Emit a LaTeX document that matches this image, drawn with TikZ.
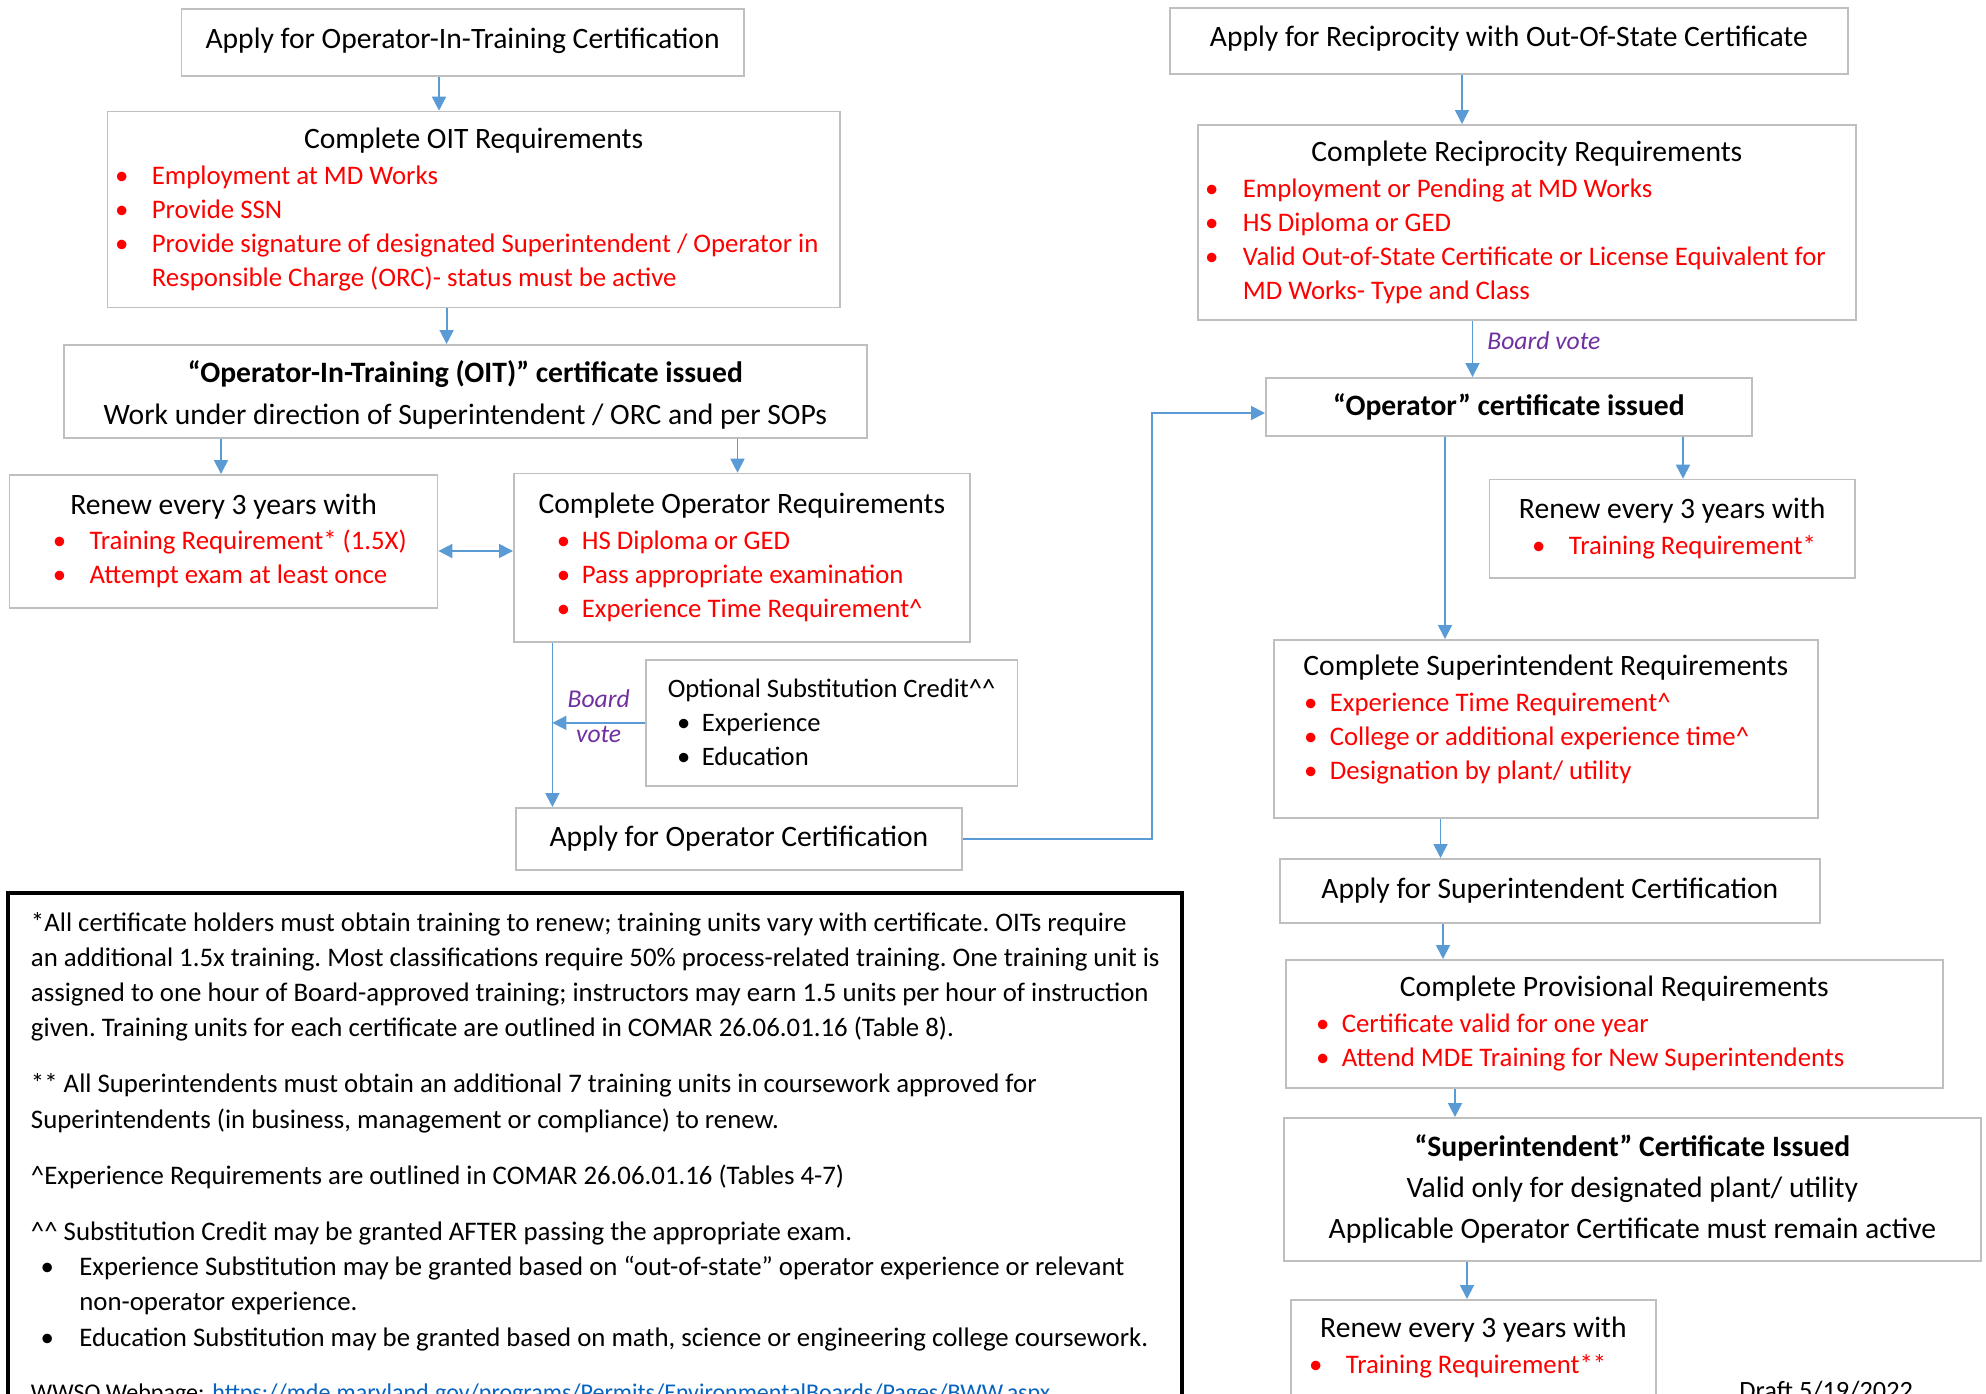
\documentclass[tikz,border=0pt]{standalone}
\usepackage{fontspec}
\setmainfont{Carlito}
\usetikzlibrary{arrows.meta}
\definecolor{boxgray}{HTML}{BFBFBF}
\definecolor{flowblue}{HTML}{5B9BD5}
\definecolor{votepurple}{HTML}{7030A0}
\definecolor{reqred}{HTML}{FF0000}
\definecolor{linkblue}{HTML}{0563C1}
\newcommand{\itemfont}{\fontsize{13.4}{17}\selectfont}
\newcommand{\ctr}[1]{\makebox[\hsize][c]{#1}}
\newcommand{\bitem}[3]{\leavevmode\makebox[0pt][l]{\hspace*{#1}\makebox[0pt]{\textbullet}}\hspace*{#2}#3}
\newcommand{\ritem}[3]{\leavevmode{\color{reqred}\itemfont\bitem{#1}{#2}{#3}}}
\newcommand{\rcont}[2]{\leavevmode{\color{reqred}\itemfont\hspace*{#1}#2}}
\begin{document}
\frenchspacing
\begin{tikzpicture}[x=0.5pt, y=-0.5pt, >={Triangle[length=7pt,width=7pt]},
  flowbox/.style 2 args={draw=boxgray, line width=0.85pt, anchor=north west, inner sep=0pt,
    align=flush left, text width=#1, minimum width=#1, minimum height=#2,
    font=\fontsize{14.8}{17}\selectfont},
  flow/.style={draw=flowblue, line width=0.9pt, ->},
  votelabel/.style={text=votepurple, inner sep=0pt, font=\fontsize{12.8}{15}\selectfont\itshape}]
  \useasboundingbox (0,0) rectangle (1986,1393);
  \fill[white] (0,0) rectangle (1986,1393);
  \clip (0,0) rectangle (1986,1393);

  \node[flowbox={281.25pt}{33.3pt}] (A) at (180.5,8.3) {\ctr{Apply for Operator-In-Training Certification\rule[-4.4pt]{0pt}{1pt}}};
  \node[flowbox={366.25pt}{98pt}] (B) at (106.5,110.7) {\ctr{Complete OIT Requirements}\\[1pt]
    \ritem{7.25pt}{22.25pt}{Employment at MD Works}\\
    \ritem{7.25pt}{22.25pt}{Provide SSN}\\
    \ritem{7.25pt}{22.25pt}{Provide signature of designated Superintendent / Operator in}\\
    \rcont{22.25pt}{Responsible Charge (ORC)- status must be active}};
  \node[flowbox={401.5pt}{46.5pt}] (C) at (63,344) {\ctr{\bfseries\rule{0pt}{15pt}“Operator-In-Training (OIT)” certificate issued}\\[4pt]
    \ctr{Work under direction of Superintendent / ORC and per SOPs}};
  \node[flowbox={214pt}{66.5pt}] (D) at (8.7,474) {\ctr{Renew every 3 years with}\\[0.5pt]
    \ritem{25pt}{40pt}{Training Requirement* (1.5X)}\\
    \ritem{25pt}{40pt}{Attempt exam at least once}};
  \node[flowbox={228pt}{84.2pt}] (E) at (513,472.7) {\ctr{Complete Operator Requirements}\\[1pt]
    \ritem{24.8pt}{34pt}{HS Diploma or GED}\\
    \ritem{24.8pt}{34pt}{Pass appropriate examination}\\
    \ritem{24.8pt}{34pt}{Experience Time Requirement\textasciicircum}};
  \node[flowbox={185.75pt}{63pt}, font=\fontsize{13.3}{17}\selectfont] (F) at (645,659) {\ctr{Optional Substitution Credit\textasciicircum\textasciicircum}\\
    \bitem{19pt}{28pt}{Experience}\\
    \bitem{19pt}{28pt}{Education}};
  \node[flowbox={223pt}{31pt}] (G) at (515,807) {\ctr{Apply for Operator Certification}};

  \node[flowbox={339pt}{33pt}] (I) at (1169,7) {\ctr{Apply for Reciprocity with Out-Of-State Certificate\rule[-4.6pt]{0pt}{1pt}}};
  \node[flowbox={329pt}{97.5pt}] (J) at (1197,124) {\ctr{Complete Reciprocity Requirements}\\[1pt]
    \ritem{7pt}{22.5pt}{Employment or Pending at MD Works}\\
    \ritem{7pt}{22.5pt}{HS Diploma or GED}\\
    \ritem{7pt}{22.5pt}{Valid Out-of-State Certificate or License Equivalent for}\\
    \rcont{22.5pt}{MD Works- Type and Class}};
  \node[flowbox={243pt}{29pt}] (H) at (1265,377) {\ctr{\bfseries “Operator” certificate issued}};
  \node[flowbox={182.75pt}{49.2pt}] (K) at (1488.5,478.7) {\ctr{Renew every 3 years with}\\[1pt]
    \ritem{24.75pt}{39.75pt}{Training Requirement*}};
  \node[flowbox={272pt}{89pt}] (L) at (1273,639) {\ctr{Complete Superintendent Requirements}\\[1pt]
    \ritem{18.5pt}{28pt}{Experience Time Requirement\textasciicircum}\\
    \ritem{18.5pt}{28pt}{College or additional experience time\textasciicircum}\\
    \ritem{18.5pt}{28pt}{Designation by plant/ utility}\rule[-11.6pt]{0pt}{1pt}};
  \node[flowbox={270pt}{32pt}] (M) at (1279,858) {\ctr{Apply for Superintendent Certification}};
  \node[flowbox={328.5pt}{64pt}] (N) at (1285,959) {\ctr{Complete Provisional Requirements}\\[1pt]
    \ritem{18.5pt}{28pt}{Certificate valid for one year}\\
    \ritem{18.5pt}{28pt}{Attend MDE Training for New Superintendents}};
  \node[flowbox={348.5pt}{71.5pt}] (O) at (1283,1117) {\ctr{\bfseries “Superintendent” Certificate Issued}\\[3.5pt]
    \ctr{Valid only for designated plant/ utility}\\[3.5pt]
    \ctr{Applicable Operator Certificate must remain active}};
  \node[flowbox={182.5pt}{48pt}] (P) at (1290,1299) {\ctr{Renew every 3 years with}\\[1pt]
    \ritem{12.5pt}{27.5pt}{Training Requirement**}};

  \coordinate (xAB) at (439,0);
  \coordinate (xBC) at (446.6,0);
  \coordinate (xCD) at (221,0);
  \coordinate (xCE) at (737.5,0);
  \coordinate (yDE) at (0,551);
  \coordinate (xEG) at (552.4,0);
  \coordinate (cGH) at (1152,413);
  \coordinate (xIJ) at (1462,0);
  \coordinate (xJH) at (1472.5,0);
  \coordinate (xHK) at (1683,0);
  \coordinate (xHL) at (1445,0);
  \coordinate (xLM) at (1440.5,0);
  \coordinate (xMN) at (1443,0);
  \coordinate (xNO) at (1455,0);
  \coordinate (xOP) at (1467,0);

  \draw[flow] (A.south -| xAB) -- (B.north -| xAB);
  \draw[flow] (B.south -| xBC) -- (C.north -| xBC);
  \draw[flow] (C.south -| xCD) -- (D.north -| xCD);
  \draw[flow] (C.south -| xCE) -- (E.north -| xCE);
  \draw[flow, <->] (D.east |- yDE) -- (E.west |- yDE);
  \draw[flow] (E.south -| xEG) -- (G.north -| xEG);
  \draw[flow] (F.west) -- (F.west -| xEG)
    node[midway, votelabel, above=6.9pt] (board) {Board}
    node[midway, votelabel, below=1.4pt] (vote) {vote};
  \draw[flow] (G.east) -| (cGH) -- (H.west |- cGH);
  \draw[flow] (I.south -| xIJ) -- (J.north -| xIJ);
  \draw[flow] (J.south -| xJH) -- (H.north -| xJH)
    node[pos=0.36, votelabel, anchor=west, xshift=7pt] (boardvote) {Board vote};
  \draw[flow] (H.south -| xHK) -- (K.north -| xHK);
  \draw[flow] (H.south -| xHL) -- (L.north -| xHL);
  \draw[flow] (L.south -| xLM) -- (M.north -| xLM);
  \draw[flow] (M.south -| xMN) -- (N.north -| xMN);
  \draw[flow] (N.south -| xNO) -- (O.north -| xNO);
  \draw[flow] (O.south -| xOP) -- (P.north -| xOP);

  \draw[black, line width=1.6pt] (8,893) rectangle (1182,1440);
  \node[anchor=base west, inner sep=0pt, text width=580pt, align=flush left,
    font=\fontsize{13.4}{17.6}\selectfont] (notes) at (30.6,931) {%
    *All certificate holders must obtain training to renew; training units vary with certificate. OITs require\\
    an additional 1.5x training. Most classifications require 50\% process-related training. One training unit is\\
    assigned to one hour of Board-approved training; instructors may earn 1.5 units per hour of instruction\\
    given. Training units for each certificate are outlined in COMAR 26.06.01.16 (Table 8).\\[10.5pt]
    ** All Superintendents must obtain an additional 7 training units in coursework approved for\\
    Superintendents (in business, management or compliance) to renew.\\[10.5pt]
    \textasciicircum Experience Requirements are outlined in COMAR 26.06.01.16 (Tables 4-7)\\[10.5pt]
    \textasciicircum\textasciicircum{} Substitution Credit may be granted AFTER passing the appropriate exam.\\
    \bitem{8.2pt}{24.2pt}{Experience Substitution may be granted based on “out-of-state” operator experience or relevant}\\
    \leavevmode\hspace*{24.2pt}non-operator experience.\\
    \bitem{8.2pt}{24.2pt}{Education Substitution may be granted based on math, science or engineering college coursework.}\\[9.5pt]
    {\fontsize{12}{17.6}\selectfont\makebox[90.7pt][l]{WWSO Webpage:}\textcolor{linkblue}{https://mde.maryland.gov/programs/Permits/EnvironmentalBoards/Pages/BWW.aspx}}};
  \node[anchor=base west, inner sep=0pt, font=\fontsize{13.2}{15}\selectfont] (draft) at (1739,1399) {Draft 5/19/2022};
\end{tikzpicture}
\end{document}
